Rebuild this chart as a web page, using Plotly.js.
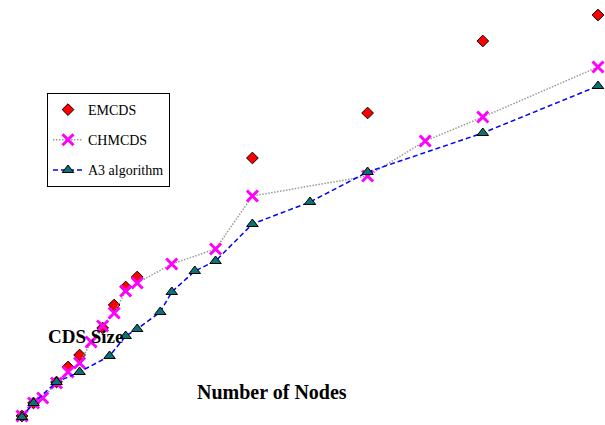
<!DOCTYPE html>
<html><head><meta charset="utf-8">
<script src="https://cdn.plot.ly/plotly-3.0.1.min.js"></script>
<style>html,body{margin:0;padding:0;background:#fff}#chart{width:605px;height:425px}</style>
</head><body><div id="chart"></div>
<script>
// Estimated values
var emNodes  = [50, 55, 65, 70, 75, 85, 90, 95, 100, 150, 200, 250, 300];
var emSize   = [5, 8.25, 13.5, 17.25, 20.25, 27, 32.75, 37.25, 39.75, 69.5, 80.75, 98.75, 105.25];

var chNodes  = [50, 55, 59, 65, 70, 75, 80, 85, 90, 95, 100, 115, 134, 150, 200, 225, 250, 300];
var chSize   = [5, 8.25, 9.5, 13.25, 16, 18.25, 23.5, 27.5, 30.75, 36.25, 38.25, 43, 46.75, 60, 65, 73.75, 79.75, 92.25];

var a3Nodes  = [50, 55, 65, 75, 88, 95, 100, 110, 115, 125, 134, 150, 175, 200, 250, 300];
var a3Size   = [4.75, 8.25, 13.5, 16, 20, 25, 26.75, 31, 36, 41.25, 43.75, 53, 58.5, 66, 75.75, 87.5];

var seriesNames = ['EMCDS', 'CHMCDS', 'A3 algorithm'];

var serif = 'Liberation Serif, Times New Roman, serif';

var traces = [
  {x: emNodes, y: emSize, name: seriesNames[0], legendgroup: 'g1', mode: 'markers', type: 'scatter',
   marker: {symbol: 'diamond', size: 9, color: '#ff0000', line: {color: '#000', width: 1}}},
  {x: chNodes, y: chSize, name: seriesNames[1], legendgroup: 'g2', mode: 'lines+markers', type: 'scatter',
   line: {color: '#999999', width: 1.5, dash: '1.5px,1.5px'},
   marker: {symbol: 'x-thin', size: 11, color: '#ff00ff', line: {color: '#ff00ff', width: 3}}},
  {x: a3Nodes, y: a3Size, name: seriesNames[2], legendgroup: 'g3', mode: 'lines+markers', type: 'scatter',
   line: {color: '#0000ff', width: 1.5, dash: '5px,3px'},
   marker: {symbol: 'triangle-up', size: 10, color: '#0b7373', line: {color: '#000', width: 1}}}
];

var layout = {
  width: 605, height: 425,
  margin: {l: 0, r: 0, t: 0, b: 0, pad: 0},
  paper_bgcolor: '#fff', plot_bgcolor: '#fff',
  font: {family: serif, color: '#000'},
  xaxis: {range: [40.45, 303.04], visible: false, showgrid: false, zeroline: false},
  yaxis: {range: [2.75, 109], visible: false, showgrid: false, zeroline: false},
  showlegend: true,
  legend: {x: 47/605, y: 1 - 93/425, xanchor: 'left', yanchor: 'top',
           tracegroupgap: 9,
           bgcolor: '#fff', bordercolor: '#000', borderwidth: 1,
           font: {family: serif, size: 14, color: '#000'}},
  annotations: [
    {text: '<b>CDS Size</b>', xref: 'paper', yref: 'paper', x: 85/605, y: 1 - 336/425,
     xanchor: 'center', yanchor: 'middle', showarrow: false,
     font: {family: serif, size: 19, color: '#000'}},
    {text: '<b>Number of Nodes</b>', xref: 'paper', yref: 'paper', x: 272/605, y: 1 - 392/425,
     xanchor: 'center', yanchor: 'middle', showarrow: false,
     font: {family: serif, size: 20, color: '#000'}}
  ]
};

Plotly.newPlot('chart', traces, layout, {displayModeBar: false, staticPlot: true});
</script></body></html>
